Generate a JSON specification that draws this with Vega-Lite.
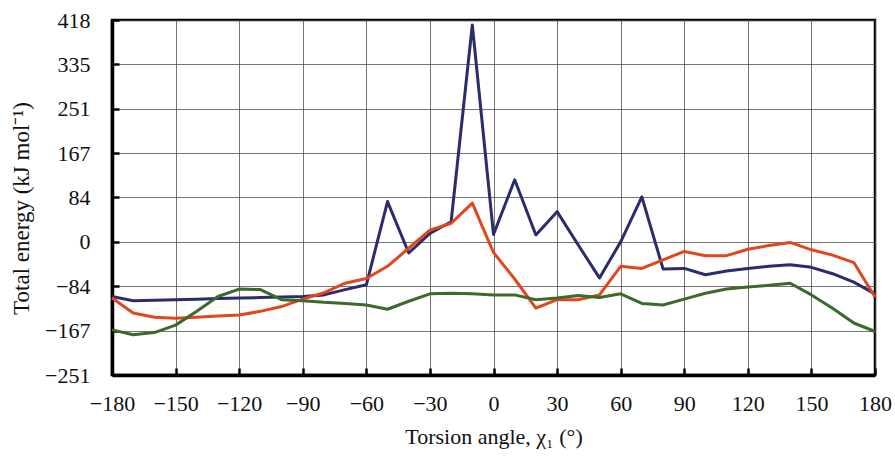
{
  "$schema": "https://vega.github.io/schema/vega-lite/v6.json",
  "width": 763,
  "height": 355,
  "autosize": "none",
  "padding": {"left": 112, "top": 20, "right": 20, "bottom": 83},
  "background": "white",
  "config": {
    "view": {"stroke": "black", "strokeWidth": 2.5},
    "font": "Liberation Serif",
    "axis": {
      "labelFont": "'Liberation Serif', 'Times New Roman', serif",
      "labelFontSize": 22,
      "labelColor": "#111",
      "labelOverlap": false,
      "labelFlush": false,
      "titleFont": "'Liberation Serif', 'Times New Roman', serif",
      "titleFontSize": 22,
      "titleFontWeight": "normal",
      "titleColor": "#111",
      "domainColor": "black",
      "domainWidth": 3.5,
      "gridColor": "#444",
      "gridWidth": 1,
      "gridOpacity": 0.75,
      "tickColor": "black",
      "tickSize": -7,
      "tickWidth": 2.5
    }
  },
  "data": {
    "values": [
      {"s": "a", "x": -180, "y": -103}, {"s": "a", "x": -170, "y": -111}, {"s": "a", "x": -160, "y": -110}, {"s": "a", "x": -150, "y": -109}, {"s": "a", "x": -140, "y": -108}, {"s": "a", "x": -130, "y": -107}, {"s": "a", "x": -120, "y": -106}, {"s": "a", "x": -110, "y": -105}, {"s": "a", "x": -100, "y": -104}, {"s": "a", "x": -90, "y": -103}, {"s": "a", "x": -80, "y": -100}, {"s": "a", "x": -70, "y": -90}, {"s": "a", "x": -60, "y": -81}, {"s": "a", "x": -50, "y": 76}, {"s": "a", "x": -40, "y": -21}, {"s": "a", "x": -30, "y": 16}, {"s": "a", "x": -20, "y": 38}, {"s": "a", "x": -10, "y": 409}, {"s": "a", "x": 0, "y": 14}, {"s": "a", "x": 10, "y": 117}, {"s": "a", "x": 20, "y": 13}, {"s": "a", "x": 30, "y": 57}, {"s": "a", "x": 40, "y": -6}, {"s": "a", "x": 50, "y": -68}, {"s": "a", "x": 60, "y": 0}, {"s": "a", "x": 70, "y": 85}, {"s": "a", "x": 80, "y": -51}, {"s": "a", "x": 90, "y": -50}, {"s": "a", "x": 100, "y": -62}, {"s": "a", "x": 110, "y": -55}, {"s": "a", "x": 120, "y": -50}, {"s": "a", "x": 130, "y": -46}, {"s": "a", "x": 140, "y": -43}, {"s": "a", "x": 150, "y": -48}, {"s": "a", "x": 160, "y": -60}, {"s": "a", "x": 170, "y": -76}, {"s": "a", "x": 180, "y": -98},
      {"s": "b", "x": -180, "y": -106}, {"s": "b", "x": -170, "y": -134}, {"s": "b", "x": -160, "y": -142}, {"s": "b", "x": -150, "y": -144}, {"s": "b", "x": -140, "y": -142}, {"s": "b", "x": -130, "y": -140}, {"s": "b", "x": -120, "y": -138}, {"s": "b", "x": -110, "y": -131}, {"s": "b", "x": -100, "y": -122}, {"s": "b", "x": -90, "y": -108}, {"s": "b", "x": -80, "y": -96}, {"s": "b", "x": -70, "y": -78}, {"s": "b", "x": -60, "y": -69}, {"s": "b", "x": -50, "y": -46}, {"s": "b", "x": -40, "y": -12}, {"s": "b", "x": -30, "y": 22}, {"s": "b", "x": -20, "y": 35}, {"s": "b", "x": -10, "y": 73}, {"s": "b", "x": 0, "y": -20}, {"s": "b", "x": 10, "y": -70}, {"s": "b", "x": 20, "y": -125}, {"s": "b", "x": 30, "y": -109}, {"s": "b", "x": 40, "y": -109}, {"s": "b", "x": 50, "y": -100}, {"s": "b", "x": 60, "y": -46}, {"s": "b", "x": 70, "y": -50}, {"s": "b", "x": 80, "y": -34}, {"s": "b", "x": 90, "y": -18}, {"s": "b", "x": 100, "y": -26}, {"s": "b", "x": 110, "y": -26}, {"s": "b", "x": 120, "y": -14}, {"s": "b", "x": 130, "y": -7}, {"s": "b", "x": 140, "y": -1}, {"s": "b", "x": 150, "y": -15}, {"s": "b", "x": 160, "y": -25}, {"s": "b", "x": 170, "y": -39}, {"s": "b", "x": 180, "y": -104},
      {"s": "c", "x": -180, "y": -166}, {"s": "c", "x": -170, "y": -175}, {"s": "c", "x": -160, "y": -171}, {"s": "c", "x": -150, "y": -157}, {"s": "c", "x": -140, "y": -131}, {"s": "c", "x": -130, "y": -103}, {"s": "c", "x": -120, "y": -89}, {"s": "c", "x": -110, "y": -90}, {"s": "c", "x": -100, "y": -109}, {"s": "c", "x": -90, "y": -111}, {"s": "c", "x": -80, "y": -114}, {"s": "c", "x": -70, "y": -116}, {"s": "c", "x": -60, "y": -119}, {"s": "c", "x": -50, "y": -127}, {"s": "c", "x": -40, "y": -112}, {"s": "c", "x": -30, "y": -98}, {"s": "c", "x": -20, "y": -97}, {"s": "c", "x": -10, "y": -98}, {"s": "c", "x": 0, "y": -100}, {"s": "c", "x": 10, "y": -100}, {"s": "c", "x": 20, "y": -109}, {"s": "c", "x": 30, "y": -106}, {"s": "c", "x": 40, "y": -101}, {"s": "c", "x": 50, "y": -105}, {"s": "c", "x": 60, "y": -98}, {"s": "c", "x": 70, "y": -116}, {"s": "c", "x": 80, "y": -119}, {"s": "c", "x": 90, "y": -108}, {"s": "c", "x": 100, "y": -97}, {"s": "c", "x": 110, "y": -89}, {"s": "c", "x": 120, "y": -85}, {"s": "c", "x": 130, "y": -82}, {"s": "c", "x": 140, "y": -78}, {"s": "c", "x": 150, "y": -100}, {"s": "c", "x": 160, "y": -125}, {"s": "c", "x": 170, "y": -153}, {"s": "c", "x": 180, "y": -169}
    ]
  },
  "mark": {"type": "line", "strokeWidth": 3, "strokeJoin": "round"},
  "encoding": {
    "x": {
      "field": "x",
      "type": "quantitative",
      "scale": {"domain": [-180, 180], "nice": false, "zero": false},
      "axis": {"values": [-180, -150, -120, -90, -60, -30, 0, 30, 60, 90, 120, 150, 180], "format": "d", "title": "Torsion angle, χ₁ (°)", "labelPadding": 25, "titlePadding": 12}
    },
    "y": {
      "field": "y",
      "type": "quantitative",
      "scale": {"domain": [-251.04, 418.4], "nice": false, "zero": false},
      "axis": {"values": [-251.04, -167.36, -83.68, 0, 83.68, 167.36, 251.04, 334.72, 418.4], "format": "d", "title": "Total energy (kJ mol⁻¹)", "titleFontSize": 23, "titleY": 188, "labelPadding": 29, "titlePadding": 11}
    },
    "color": {
      "field": "s",
      "type": "nominal",
      "scale": {"domain": ["a", "b", "c"], "range": ["#2a2c6c", "#e2461c", "#3c6a2a"]},
      "legend": null
    }
  }
}
